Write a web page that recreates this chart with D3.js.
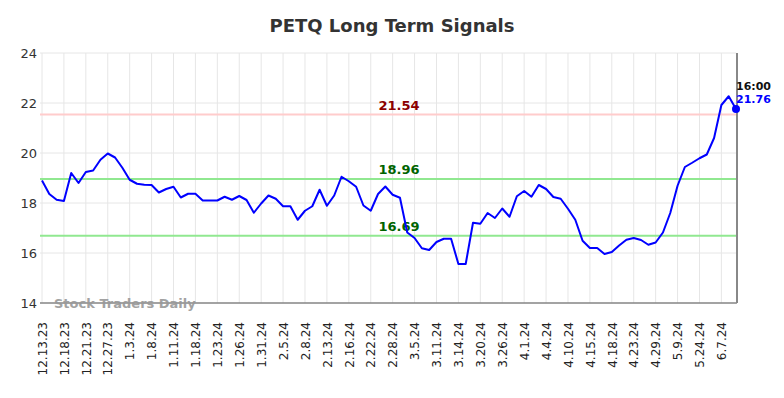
<!DOCTYPE html>
<html>
<head>
<meta charset="utf-8">
<script src="https://cdn.jsdelivr.net/npm/d3@7"></script>
<style>
  body { margin: 0; background: #fff; }
  svg { display: block; font-family: "DejaVu Sans", sans-serif; }
</style>
</head>
<body>
<svg id="chart" width="784" height="398"></svg>
<script>
const tickLabels = ["12.13.23","12.18.23","12.21.23","12.27.23","1.3.24","1.8.24","1.11.24","1.18.24","1.23.24","1.26.24","1.31.24","2.5.24","2.8.24","2.13.24","2.16.24","2.22.24","2.28.24","3.5.24","3.11.24","3.14.24","3.20.24","3.26.24","4.1.24","4.4.24","4.10.24","4.15.24","4.18.24","4.23.24","4.29.24","5.9.24","5.24.24","6.7.24"];
const prices = [18.9,18.36,18.13,18.08,19.2,18.8,19.24,19.3,19.73,19.98,19.82,19.41,18.93,18.77,18.73,18.72,18.42,18.56,18.65,18.22,18.37,18.37,18.1,18.1,18.1,18.25,18.13,18.28,18.12,17.61,17.98,18.3,18.17,17.87,17.87,17.33,17.69,17.87,18.53,17.89,18.3,19.05,18.87,18.65,17.9,17.69,18.36,18.66,18.33,18.21,16.82,16.6,16.19,16.12,16.44,16.57,16.57,15.56,15.56,17.21,17.17,17.6,17.4,17.78,17.45,18.27,18.48,18.25,18.72,18.56,18.24,18.17,17.77,17.33,16.49,16.2,16.2,15.96,16.04,16.3,16.53,16.6,16.52,16.33,16.42,16.82,17.6,18.69,19.44,19.61,19.79,19.94,20.6,21.92,22.27,21.76];
const yTicks = [14,16,18,20,22,24];
const levels = [21.54, 18.96, 16.69];
const levelKinds = ["resistance","support","support"];
const lastTime = "16:00";

const svg = d3.select("#chart");
const pLeft = 42, pRight = 736, pTop = 53, pBottom = 303;
const x = d3.scaleLinear().domain([0, prices.length - 1]).range([pLeft, pRight]);
const y = d3.scaleLinear().domain([14, 24]).range([pBottom, pTop]);
const tickIdx = tickLabels.map((d, i) => i * 3);

// title
svg.append("text").attr("x", 392).attr("y", 32).attr("text-anchor", "middle")
  .attr("font-size", 18).attr("font-weight", "bold").attr("fill", "#333")
  .text("PETQ Long Term Signals");

// grid
const g = svg.append("g");
g.selectAll(".hg").data(yTicks).join("line")
  .attr("x1", pLeft - 2).attr("x2", pRight).attr("y1", d => y(d)).attr("y2", d => y(d))
  .attr("stroke", "#e6e6e6").attr("stroke-width", 1);
g.selectAll(".vg").data(tickIdx).join("line")
  .attr("x1", d => x(d)).attr("x2", d => x(d)).attr("y1", pTop).attr("y2", pBottom)
  .attr("stroke", "#e6e6e6").attr("stroke-width", 1);

// y axis labels
const yAxis = d3.axisLeft(y).tickValues(yTicks).tickSize(0).tickPadding(0).tickFormat(d3.format("d"));
const ya = svg.append("g").attr("transform", `translate(${pLeft - 5},0)`).call(yAxis);
ya.select(".domain").remove();
ya.selectAll("text").attr("font-size", 13).attr("fill", "#333")
  .attr("font-family", "DejaVu Sans, sans-serif").attr("text-anchor", "end").attr("x", 0);

// x axis labels
const xa = svg.append("g").attr("transform", `translate(0,${pBottom})`)
  .call(d3.axisBottom(x).tickValues(tickIdx).tickSize(0).tickFormat((d, i) => tickLabels[i]));
xa.select(".domain").remove();
xa.selectAll("text").attr("font-size", 12).attr("fill", "#222")
  .attr("font-family", "DejaVu Sans, sans-serif")
  .attr("transform", "rotate(-90)").attr("text-anchor", "end")
  .attr("x", -19).attr("y", 0).attr("dy", "0.35em");

// bottom axis line
svg.append("line").attr("x1", pLeft - 2).attr("x2", pRight + 1).attr("y1", pBottom).attr("y2", pBottom)
  .attr("stroke", "#555").attr("stroke-width", 1.2);

// watermark
svg.append("text").attr("x", 54).attr("y", 308).attr("font-size", 13).attr("font-weight", "bold")
  .attr("fill", "#999").attr("opacity", 0.9).text("Stock Traders Daily");

// level lines
levels.forEach((v, i) => {
  const res = levelKinds[i] === "resistance";
  svg.append("line").attr("x1", pLeft - 2).attr("x2", pRight).attr("y1", y(v)).attr("y2", y(v))
    .attr("stroke", res ? "#ffcccc" : "#90e890").attr("stroke-width", 2);
  svg.append("text").attr("x", 399).attr("y", y(v) - 5).attr("text-anchor", "middle")
    .attr("font-size", 13).attr("font-weight", "bold")
    .attr("fill", res ? "#8b0000" : "#006400").text(v.toFixed(2));
});

// right vertical line
svg.append("line").attr("x1", pRight + 1).attr("x2", pRight + 1).attr("y1", pTop).attr("y2", pBottom)
  .attr("stroke", "#888").attr("stroke-width", 2);

// price line
const line = d3.line().x((d, i) => x(i)).y(d => y(d));
svg.append("path").datum(prices).attr("d", line).attr("fill", "none")
  .attr("stroke", "#0000ff").attr("stroke-width", 2).attr("stroke-linejoin", "round");

// last point
const li = prices.length - 1;
svg.append("circle").attr("cx", x(li)).attr("cy", y(prices[li])).attr("r", 4).attr("fill", "#0000ff");
svg.append("text").attr("x", x(li)).attr("y", y(prices[li]) - 19).attr("font-size", 11)
  .attr("font-weight", "bold").attr("fill", "#111").text(lastTime);
svg.append("text").attr("x", x(li)).attr("y", y(prices[li]) - 6).attr("font-size", 11)
  .attr("font-weight", "bold").attr("fill", "#0000ff").text(prices[li].toFixed(2));
</script>
</body>
</html>
